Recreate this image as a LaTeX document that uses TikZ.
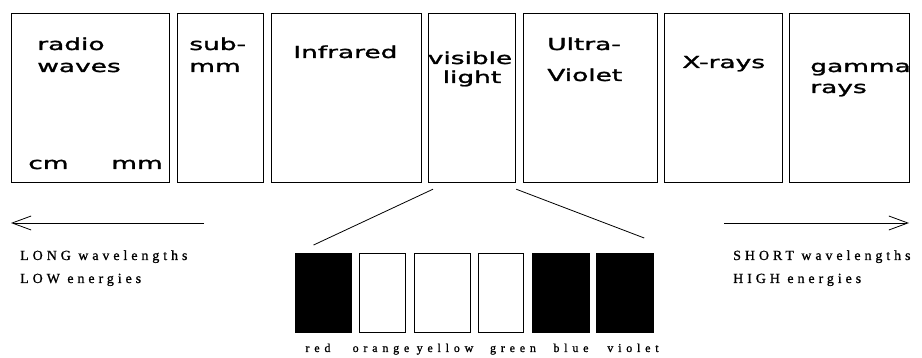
\documentclass[tikz,border=0pt]{standalone}
\usepackage{fontspec}
\setmainfont{Liberation Serif}
\newfontfamily\topfont[FakeBold=1.3]{DejaVu Sans}
\newfontfamily\lowfont[LetterSpace=28,FakeBold=1]{Liberation Serif}
\newfontfamily\colfont[LetterSpace=40,FakeBold=1]{Liberation Serif}
\usetikzlibrary{arrows.meta}
\begin{document}
\begin{tikzpicture}[x=1pt,y=-1pt,
  band/.style={draw, line width=1.2pt, inner sep=0pt, anchor=north west},
  swatch/.style={draw, line width=1.2pt, inner sep=0pt, anchor=north west, minimum height=79pt},
  toplab/.style={inner sep=0pt, anchor=base west, font=\topfont\fontsize{16.5}{16.5}\selectfont, xscale=1.6, transform shape},
  lowlab/.style={inner sep=0pt, anchor=base west, font=\lowfont\fontsize{14}{14}\selectfont},
  collab/.style={inner sep=0pt, anchor=base, font=\colfont\fontsize{12}{12}\selectfont},
  conn/.style={line width=0.8pt},
  dir/.style={line width=0.8pt, -{Straight Barb[length=19pt,width=14pt,line width=0.8pt]}}]
\useasboundingbox[fill=white] (0,0) rectangle (922,358);
% spectrum bands
\node[band, minimum width=158pt, minimum height=169pt] (radio) at (11,13) {};
\node[band, minimum width=86pt, minimum height=169pt] (submm) at (177,13) {};
\node[band, minimum width=150pt, minimum height=169pt] (ir) at (271,13) {};
\node[band, minimum width=87pt, minimum height=169pt] (vis) at (428,13) {};
\node[band, minimum width=134pt, minimum height=169pt] (uv) at (523,13) {};
\node[band, minimum width=118pt, minimum height=169pt] (xr) at (664,13) {};
\node[band, minimum width=120pt, minimum height=169pt] (gam) at (789,13) {};
% band labels
\node[toplab] (t1) at (37,50) {radio};
\node[toplab] (t2) at (37,72) {waves};
\node[toplab] (t3) at (28,169) {cm};
\node[toplab] (t4) at (111,169) {mm};
\node[toplab] (t5) at (189,50) {sub-};
\node[toplab] (t6) at (189,72) {mm};
\node[toplab] (t7) at (293,58) {Infrared};
\node[toplab, anchor=base] (t8) at (470,64) {visible};
\node[toplab, anchor=base] (t9) at (472,83) {light};
\node[toplab] (t10) at (547,50) {Ultra-};
\node[toplab] (t11) at (547,81) {Violet};
\node[toplab] (t12) at (682,68) {X-rays};
\node[toplab] (t13) at (810,72) {gamma};
\node[toplab] (t14) at (810,93) {rays};
% direction arrows
\coordinate (la0) at (11,223);
\coordinate (la1) at (204,223);
\coordinate (ra0) at (724,223);
\coordinate (ra1) at (909,223);
\draw[dir] (la1) -- (la0);
\draw[dir] (ra0) -- (ra1);
\node[lowlab] (l1) at (20,260) {LONG wavelengths};
\node[lowlab] (l2) at (20,283) {LOW energies};
\node[lowlab] (r1) at (733,260) {SHORT wavelengths};
\node[lowlab] (r2) at (733,283) {HIGH energies};
% colour swatches
\node[swatch, fill=black, minimum width=56pt] (red) at (295,253) {};
\node[swatch, minimum width=46pt] (orange) at (359,253) {};
\node[swatch, minimum width=56pt] (yellow) at (414,253) {};
\node[swatch, minimum width=45pt] (green) at (478,253) {};
\node[swatch, fill=black, minimum width=57pt] (blue) at (532,253) {};
\node[swatch, fill=black, minimum width=57pt] (violet) at (596,253) {};
\node[collab] (c1) at (318,352) {red};
\node[collab] (c2) at (381,352) {orange};
\node[collab] (c3) at (445,352) {yellow};
\node[collab] (c4) at (513,352) {green};
\node[collab] (c5) at (571,352) {blue};
\node[collab] (c6) at (633,352) {violet};
% zoom lines
\draw[conn] ([shift={(5,6)}]vis.south west) -- ([shift={(-10,-8)}]red.north);
\draw[conn] ([shift={(0,6)}]vis.south east) -- ([shift={(-10,-15)}]violet.north east);
\end{tikzpicture}
\end{document}
